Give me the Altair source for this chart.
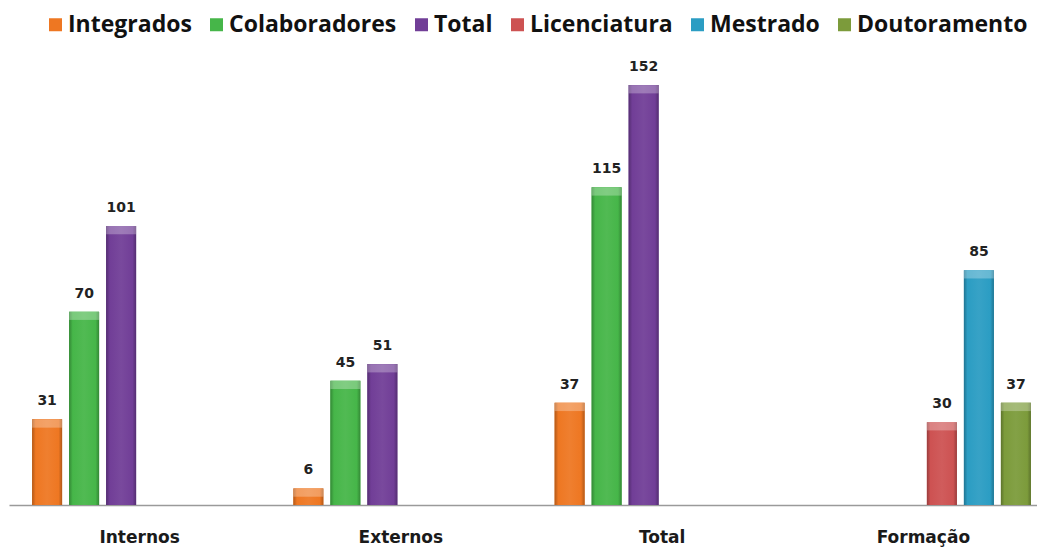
import altair as alt
import pandas as pd

categories = ["Internos", "Externos", "Total", "Formação"]
series = ["Integrados", "Colaboradores", "Total", "Licenciatura", "Mestrado", "Doutoramento"]
colors = ["#EE7722", "#46B649", "#713E97", "#CD5252", "#2B9DC3", "#7C9B3B"]

internos = {"Integrados": 31, "Colaboradores": 70, "Total": 101}
externos = {"Integrados": 6, "Colaboradores": 45, "Total": 51}
total = {"Integrados": 37, "Colaboradores": 115, "Total": 152}
formacao = {"Licenciatura": 30, "Mestrado": 85, "Doutoramento": 37}

rows = []
for cat, d in zip(categories, [internos, externos, total, formacao]):
    for s, v in d.items():
        rows.append({"categoria": cat, "serie": s, "valor": v})
df = pd.DataFrame(rows)


def shade(hex_color, f):
    h = hex_color.lstrip("#")
    r, g, b = (int(h[i:i + 2], 16) for i in (0, 2, 4))
    if f < 0:
        r, g, b = (int(c * (1 + f)) for c in (r, g, b))
    else:
        r, g, b = (int(c + (255 - c) * f) for c in (r, g, b))
    return "#%02x%02x%02x" % (r, g, b)


x = alt.X("categoria:N", sort=categories,
          scale=alt.Scale(domain=categories, range=[0, 1045], paddingInner=0, paddingOuter=0),
          axis=alt.Axis(title=None, labelAngle=0, ticks=False, domainColor="#9a9a9a", domainWidth=1.5,
                        labelFont="DejaVu Sans", labelFontWeight="bold", labelFontSize=17,
                        labelColor="#1a1a1a", labelPadding=24))
xo = alt.XOffset("serie:N", sort=series,
                 scale=alt.Scale(domain=series, paddingInner=0.19, paddingOuter=0.625))
y = alt.Y("valor:Q", scale=alt.Scale(domain=[0, 160], nice=False), axis=None)

base = alt.Chart(df)

bars = base.mark_bar().encode(
    x=x, xOffset=xo, y=y,
    color=alt.Color("serie:N", sort=series,
                    scale=alt.Scale(domain=series, range=colors),
                    legend=alt.Legend(title=None, orient="none", legendX=35, legendY=-50,
                                      direction="horizontal", symbolType="square", symbolSize=169,
                                      symbolStrokeWidth=0, labelLimit=0,
                                      labelFont="Open Sans", labelFontWeight="bold", labelFontSize=23,
                                      labelColor="#111111", columnPadding=13, labelOffset=1)),
)

layers = [bars]
for s, c in zip(series, colors):
    grad = alt.Gradient(
        gradient="linear", x1=0, x2=1, y1=0, y2=0,
        stops=[alt.GradientStop(offset=0, color=shade(c, -0.25)),
               alt.GradientStop(offset=0.12, color=c),
               alt.GradientStop(offset=0.5, color=shade(c, 0.06)),
               alt.GradientStop(offset=0.88, color=c),
               alt.GradientStop(offset=1, color=shade(c, -0.25))])
    layers.append(
        base.transform_filter(alt.datum.serie == s).mark_bar(fill=grad).encode(x=x, xOffset=xo, y=y)
    )

cap = base.transform_calculate(cap="datum.valor - 3").mark_bar(color="white", opacity=0.28).encode(
    x=x, xOffset=xo, y=y, y2="cap:Q"
)
layers.append(cap)

labels = base.mark_text(font="DejaVu Sans", fontWeight="bold", fontSize=14, color="#222222",
                        baseline="alphabetic", dy=-14).encode(
    x=x, xOffset=xo, y=y, text="valor:Q"
)
layers.append(labels)

chart = alt.layer(*layers).properties(
    width=1028, height=442,
    autosize=alt.AutoSizeParams(type="none"),
    padding={"left": 1, "top": 55, "right": 0, "bottom": 44},
    background="white",
).configure_view(stroke=None)

chart.save("out.html", embed_options={"renderer": "svg", "actions": False})
